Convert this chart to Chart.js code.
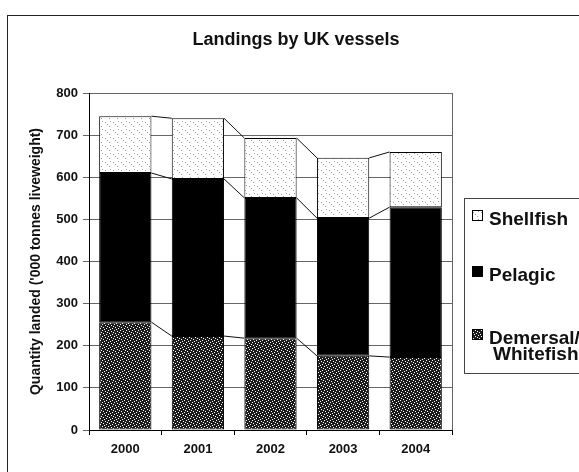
<!DOCTYPE html>
<html>
<head>
<meta charset="utf-8">
<script src="https://cdn.jsdelivr.net/npm/chart.js@4"></script>
<style>
  html, body { margin: 0; padding: 0; background: #fff; }
  body { width: 579px; height: 472px; overflow: hidden; position: relative; font-family: "Liberation Sans", Arial, sans-serif; }
  .rule { position: absolute; background: #222; }
  #wrap { position: absolute; left: 0; top: 0; width: 579px; height: 472px; }
  #title { position: absolute; left: 146px; width: 300px; top: 29px; text-align: center; font-weight: bold; font-size: 18px; color: #111; }
  #legend { position: absolute; left: 464px; top: 198px; width: 140px; height: 174px; border-top: 1px solid #444; border-left: 1px solid #444; border-bottom: 1px solid #444; }
  .item { position: absolute; left: 0; width: 135px; font-weight: bold; font-size: 19px; color: #111; line-height: 17px; }
  .item canvas { position: absolute; left: 7px; }
  .item span { position: absolute; left: 24px; white-space: nowrap; }
</style>
</head>
<body>
<div class="rule" style="left:7px; top:15px; width:572px; height:1px"></div>
<div class="rule" style="left:7px; top:15px; width:1px; height:457px"></div>
<div id="wrap"><canvas id="chart" width="579" height="472"></canvas></div>
<div id="title">Landings by UK vessels</div>
<div id="legend">
  <div class="item" style="top:11px"><canvas id="swShell" width="11" height="11"></canvas><span>Shellfish</span></div>
  <div class="item" style="top:67px"><canvas id="swPel" width="11" height="11"></canvas><span>Pelagic</span></div>
  <div class="item" style="top:130px"><canvas id="swDem" width="11" height="11"></canvas><span>Demersal/</span></div>
  <div class="item" style="top:146px"><span style="left:28px">Whitefish</span></div>
</div>
<script>
const years = ['2000', '2001', '2002', '2003', '2004']
const demersal = [256, 223, 218, 176, 173]
const pelagic = [354, 373, 333, 327, 356]
const shellfish = [135, 144, 142, 143, 131]
const yTicks = [0, 100, 200, 300, 400, 500, 600, 700, 800]

// stipple fills, like the printed chart
function makePattern(bg, dot, size, dots) {
  const c = document.createElement('canvas')
  c.width = size
  c.height = size
  const g = c.getContext('2d')
  g.fillStyle = bg
  g.fillRect(0, 0, size, size)
  g.fillStyle = dot
  dots.forEach(([x, y]) => g.fillRect(x, y, 1, 1))
  return g.createPattern(c, 'repeat')
}

const demDots = [[0, 0], [3, 1], [1, 3], [4, 4], [2, 5], [5, 2]]
const shellDots = [[1, 2], [5, 6], [6, 1], [3, 4]]

const ctx = document.getElementById('chart').getContext('2d')
const demFill = makePattern('#1c1c1c', '#ffffff', 6, demDots)
const shellFill = makePattern('#ffffff', '#9a9a9a', 8, shellDots)

function swatch(id, fill) {
  const g = document.getElementById(id).getContext('2d')
  g.fillStyle = fill
  g.fillRect(0, 0, 11, 11)
  g.strokeStyle = '#000'
  g.strokeRect(0.5, 0.5, 10, 10)
}
swatch('swShell', makePattern('#ffffff', '#9a9a9a', 8, shellDots))
swatch('swPel', '#000')
swatch('swDem', makePattern('#1c1c1c', '#ffffff', 6, demDots))

// Excel style series lines between stacked bars + right plot border
const seriesLines = {
  id: 'seriesLines',
  beforeDatasetsDraw(chart) {
    const { ctx, chartArea } = chart
    ctx.save()
    ctx.strokeStyle = '#666'
    ctx.lineWidth = 1
    ctx.beginPath()
    ctx.moveTo(Math.round(chartArea.right) + 0.5, chartArea.top)
    ctx.lineTo(Math.round(chartArea.right) + 0.5, chartArea.bottom)
    ctx.stroke()
    ctx.restore()
  },
  afterDatasetsDraw(chart) {
    const { ctx } = chart
    ctx.save()
    ctx.strokeStyle = '#111'
    ctx.lineWidth = 1
    chart.data.datasets.forEach((ds, i) => {
      const bars = chart.getDatasetMeta(i).data
      for (let j = 0; j < bars.length - 1; j++) {
        const a = bars[j], b = bars[j + 1]
        ctx.beginPath()
        ctx.moveTo(a.x + a.width / 2, a.y)
        ctx.lineTo(b.x - b.width / 2, b.y)
        ctx.stroke()
      }
    })
    ctx.restore()
  }
}

new Chart(ctx, {
  type: 'bar',
  data: {
    labels: years,
    datasets: [
      { label: 'Demersal/Whitefish', data: demersal, backgroundColor: demFill },
      { label: 'Pelagic', data: pelagic, backgroundColor: '#000' },
      { label: 'Shellfish', data: shellfish, backgroundColor: shellFill }
    ].map(d => Object.assign(d, {
      borderColor: '#000',
      borderWidth: 1,
      borderSkipped: false,
      barPercentage: 0.72,
      categoryPercentage: 1
    }))
  },
  options: {
    responsive: false,
    animation: false,
    layout: { padding: { left: 28, top: 93, right: 127, bottom: 0 } },
    scales: {
      x: {
        stacked: true,
        afterFit: s => { s.height = 42 },
        grid: { display: true, drawOnChartArea: false, tickLength: 5, color: '#000', offset: true },
        border: { display: true, color: '#000' },
        ticks: { color: '#111', padding: 7, font: { family: 'Liberation Sans', size: 13, weight: 'bold' } }
      },
      y: {
        stacked: true,
        min: 0,
        max: 800,
        afterFit: s => { s.width = 61 },
        afterBuildTicks: s => { s.ticks = yTicks.map(v => ({ value: v })) },
        grid: { color: '#666', tickLength: 6 },
        border: { display: true, color: '#000' },
        ticks: { color: '#111', padding: 5, font: { family: 'Liberation Sans', size: 13, weight: 'bold' } },
        title: {
          display: true,
          text: "Quantity landed ('000 tonnes liveweight)",
          color: '#111',
          padding: 0,
          font: { family: 'Liberation Sans', size: 14, weight: 'bold' }
        }
      }
    },
    plugins: {
      legend: { display: false },
      tooltip: { enabled: false }
    }
  },
  plugins: [seriesLines]
})
</script>
</body>
</html>
